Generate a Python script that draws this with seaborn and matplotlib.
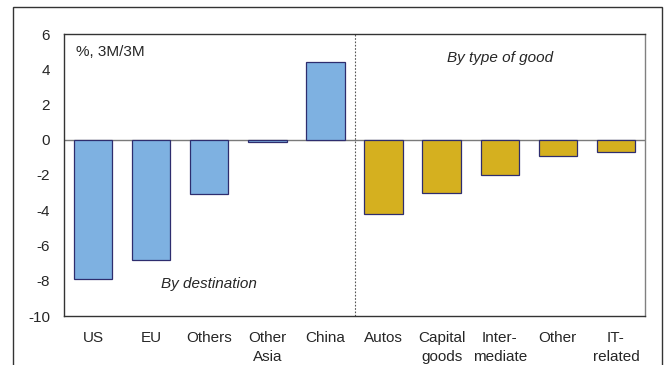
import matplotlib
matplotlib.use("Agg")
import matplotlib.pyplot as plt
from matplotlib.patches import Rectangle
import pandas as pd
import seaborn as sns

categories = ["US", "EU", "Others", "Other\nAsia", "China",
              "Autos", "Capital\ngoods", "Inter-\nmediate", "Other", "IT-\nrelated"]
values = [-7.9, -6.8, -3.1, -0.1, 4.4, -4.2, -3.0, -2.0, -0.9, -0.7]
groups = ["By destination"] * 5 + ["By type of good"] * 5
yticks = [6, 4, 2, 0, -2, -4, -6, -8, -10]

df = pd.DataFrame({"category": categories, "value": values, "group": groups})

sns.set_style("white")
plt.rcParams["font.family"] = ["Liberation Sans", "DejaVu Sans"]

fig = plt.figure(figsize=(6.7, 3.65), dpi=100)
ax = fig.add_axes([64 / 670, 1 - 316 / 365, 581 / 670, 282 / 365])

sns.barplot(data=df, x="category", y="value", hue="group",
            palette={"By destination": "#7EB1E1", "By type of good": "#D5B01F"},
            saturation=1, dodge=False, width=0.66, edgecolor="#2E2D6E",
            linewidth=0.9, legend=False, ax=ax)

ax.set_xlim(-0.5, 9.5)
ax.set_ylim(-10, 6)
ax.set_yticks(yticks)
ax.set_yticklabels([str(t) for t in yticks], fontsize=11)
ax.set_xticks(range(len(categories)))
ax.set_xticklabels(categories, fontsize=11, linespacing=1.45, va="top")
ax.set_xlabel("")
ax.set_ylabel("")
ax.tick_params(axis="x", length=0, pad=11)
ax.tick_params(axis="y", direction="in", length=4, width=0.8, color="#333333", pad=10)
for s in ax.spines.values():
    s.set_color("#333333")
    s.set_linewidth(1.0)
ax.spines["right"].set_color("#808080")

ax.axhline(0, color="#7A7A7A", lw=1.0, zorder=0.5)
ax.axvline(4.5, color="#555555", lw=0.8, ls=(0, (1.5, 1.5)), zorder=0.5)

ax.text(0.02, 0.935, "%, 3M/3M", transform=ax.transAxes, fontsize=11, va="center")
ax.text(2.0, -8.2, "By destination", fontsize=11, style="italic", ha="center", va="center")
ax.text(7.0, 4.65, "By type of good", fontsize=11, style="italic", ha="center", va="center")

# outer frame around the chart panel
fig.patches.append(Rectangle((13 / 670, -0.05), (662 - 13) / 670, 1.05 - 7 / 365,
                             transform=fig.transFigure, fill=False,
                             edgecolor="#333333", lw=1.0))

fig.savefig("out.png", dpi=100, facecolor="white")
